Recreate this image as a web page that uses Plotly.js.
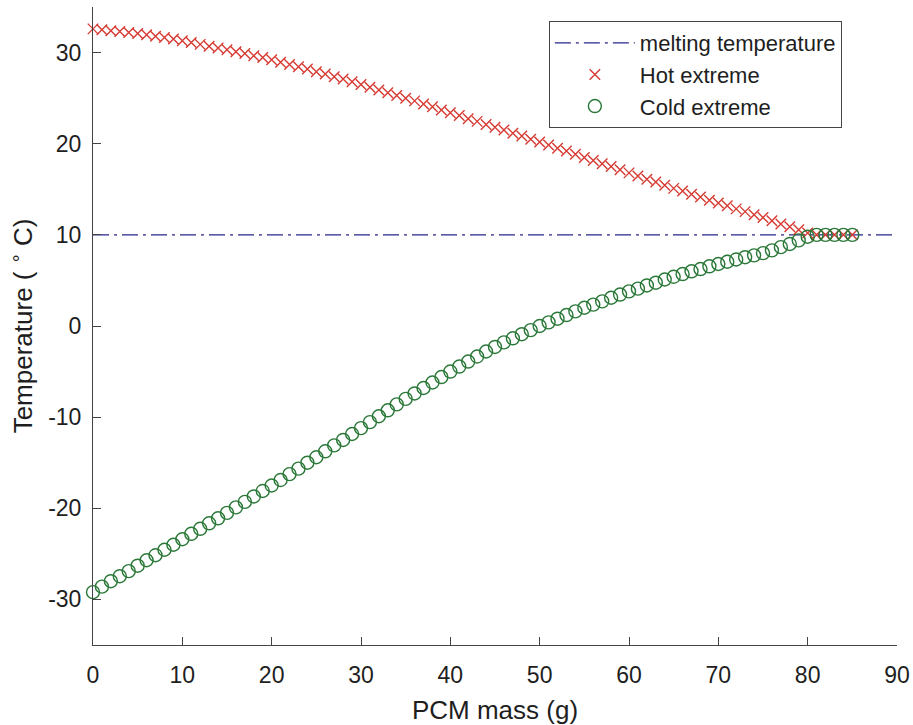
<!DOCTYPE html>
<html>
<head>
<meta charset="utf-8">
<script src="https://cdn.plot.ly/plotly-3.0.1.min.js"></script>
<style>html,body{margin:0;padding:0;background:#fff;}#chart{width:913px;height:725px;}</style>
</head>
<body>
<div id="chart"></div>
<script>
const pcmMass = [0,1,2,3,4,5,6,7,8,9,10,11,12,13,14,15,16,17,18,19,20,21,22,23,24,25,26,27,28,29,30,31,32,33,34,35,36,37,38,39,40,41,42,43,44,45,46,47,48,49,50,51,52,53,54,55,56,57,58,59,60,61,62,63,64,65,66,67,68,69,70,71,72,73,74,75,76,77,78,79,80,81,82,83,84,85];
const hotExtreme = [32.6,32.5,32.4,32.3,32.2,32.1,31.95,31.8,31.65,31.5,31.3,31.1,30.9,30.7,30.5,30.3,30.1,29.9,29.65,29.45,29.2,28.95,28.7,28.45,28.2,27.9,27.65,27.35,27.1,26.8,26.5,26.2,25.9,25.6,25.3,25.0,24.7,24.35,24.05,23.7,23.4,23.1,22.75,22.45,22.1,21.8,21.5,21.15,20.85,20.5,20.2,19.85,19.5,19.2,18.85,18.5,18.15,17.8,17.5,17.15,16.8,16.45,16.1,15.8,15.45,15.1,14.8,14.45,14.15,13.8,13.5,13.2,12.85,12.55,12.2,11.9,11.55,11.2,10.9,10.55,10.2,10.0,10.0,10.0,10.0,10.0];
const coldExtreme = [-29.2,-28.6,-28.0,-27.45,-26.9,-26.3,-25.7,-25.15,-24.55,-24.0,-23.4,-22.8,-22.25,-21.65,-21.1,-20.5,-19.9,-19.3,-18.7,-18.1,-17.5,-16.9,-16.25,-15.65,-15.0,-14.4,-13.75,-13.1,-12.5,-11.85,-11.2,-10.55,-9.9,-9.25,-8.6,-8.0,-7.4,-6.8,-6.2,-5.6,-5.0,-4.45,-3.9,-3.35,-2.8,-2.3,-1.8,-1.35,-0.9,-0.45,0.0,0.4,0.8,1.2,1.6,2.0,2.35,2.7,3.1,3.45,3.8,4.1,4.45,4.75,5.1,5.4,5.7,6.0,6.25,6.55,6.8,7.05,7.3,7.55,7.75,8.0,8.3,8.65,9.0,9.4,9.8,10.0,10.0,10.0,10.0,10.0];
const meltingX = [0, 90];
const meltingY = [10, 10];
const xTickVals = [0,10,20,30,40,50,60,70,80,90];
const xTickText = ["0","10","20","30","40","50","60","70","80","90"];
const yTickVals = [-30,-20,-10,0,10,20,30];
const yTickText = ["-30","-20","-10","0","10","20","30"];

const font = "Liberation Sans, Arial, Helvetica, sans-serif";
const txt = '#1e1e1e';

const traces = [
  {x: meltingX, y: meltingY, mode: 'lines', name: 'melting temperature',
   line: {color: '#26268a', width: 1.2, dash: '16px,5px,3px,5px'}},
  {x: pcmMass, y: hotExtreme, mode: 'markers', name: 'Hot extreme', cliponaxis: false,
   marker: {symbol: 'x-thin-open', size: 10.5, color: '#d63a32', line: {color: '#d63a32', width: 1.4}}},
  {x: pcmMass, y: coldExtreme, mode: 'markers', name: 'Cold extreme', cliponaxis: false,
   marker: {symbol: 'circle-open', size: 13, color: '#2a7838', line: {color: '#2a7838', width: 1.4}}}
];

const layout = {
  width: 913, height: 725,
  margin: {l: 93, r: 16, t: 7, b: 80},
  paper_bgcolor: '#fff', plot_bgcolor: '#fff',
  font: {family: font, color: txt, size: 22},
  showlegend: true,
  legend: {x: 0.567, xanchor: 'left', y: 0.978, yanchor: 'top', bgcolor: '#fff',
           bordercolor: '#444', borderwidth: 1, font: {size: 22, family: font, color: txt},
           itemwidth: 80, tracegroupgap: 0},
  xaxis: {range: [0, 90], tickmode: 'array', tickvals: xTickVals, ticktext: xTickText,
          ticks: 'inside', ticklen: 8, tickcolor: '#444', showline: true, linecolor: '#444', linewidth: 1,
          showgrid: false, zeroline: false, ticklabelstandoff: 9,
          tickfont: {size: 23, family: font, color: txt},
          title: {text: 'PCM mass (g)', font: {size: 26, family: font, color: txt}, standoff: 14}},
  yaxis: {range: [-35, 35], tickmode: 'array', tickvals: yTickVals, ticktext: yTickText,
          ticks: 'inside', ticklen: 8, tickcolor: '#444', showline: true, linecolor: '#444', linewidth: 1,
          showgrid: false, zeroline: false, ticklabelstandoff: 6,
          tickfont: {size: 23, family: font, color: txt},
          title: {text: 'Temperature ( <sup>∘</sup> C)', font: {size: 26, family: font, color: txt}, standoff: 8}}
};

Plotly.newPlot('chart', traces, layout, {displayModeBar: false, staticPlot: true});
</script>
</body>
</html>
